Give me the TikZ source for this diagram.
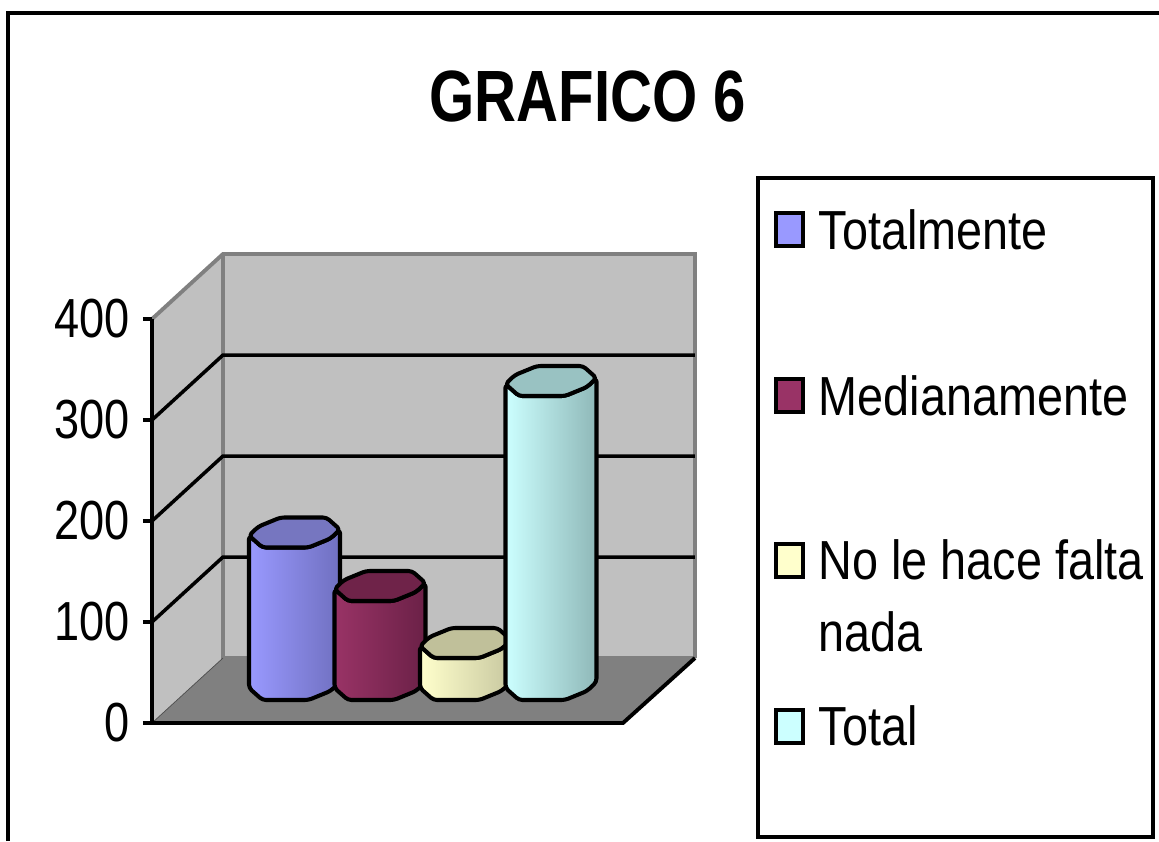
\documentclass[tikz,border=0pt]{standalone}
\usepackage{fontspec}
\setmainfont{Liberation Sans}[FakeStretch=0.82]
\newfontfamily\leyfont{Liberation Sans}[FakeStretch=0.85]
\newfontfamily\titfont{Liberation Sans}[FakeStretch=0.8]
\definecolor{gris}{HTML}{C0C0C0}
\definecolor{grisosc}{HTML}{808080}
\definecolor{azul}{HTML}{9999FF}
\definecolor{azulosc}{HTML}{7070C0}
\definecolor{azultapa}{HTML}{7676C0}
\definecolor{granate}{HTML}{993366}
\definecolor{granateosc}{HTML}{6B2147}
\definecolor{granatetapa}{HTML}{6F2349}
\definecolor{crema}{HTML}{FFFFCC}
\definecolor{cremaosc}{HTML}{C8C8A0}
\definecolor{crematapa}{HTML}{C0C09A}
\definecolor{celeste}{HTML}{CCFFFF}
\definecolor{celesteosc}{HTML}{8FB8B8}
\definecolor{celestetapa}{HTML}{99C2C2}
\begin{document}
\begin{tikzpicture}[x=0.01cm,y=-0.01cm,
  pared/.style={fill=gris},
  borde/.style={draw=grisosc,line width=1.1pt},
  rejilla/.style={line width=1pt},
  barra/.style={line width=1.15pt,line join=round,rounded corners=1pt},
  etiq/.style={anchor=east,inner sep=0pt,font=\fontsize{15.65}{18}\selectfont},
  textoley/.style={anchor=base west,inner sep=0pt,align=left,font=\leyfont\fontsize{15.65}{20.2}\selectfont},
  cuadro/.style={draw,line width=0.9pt}]
\useasboundingbox (0,0) rectangle (1159,841);
%\draw[step=100,very thin,color=gray] (0,0) grid (1159,841);
\draw[line width=1pt] (8,841) -- (8,13) -- (1159,13);
\node[font=\titfont\bfseries\fontsize{20.66}{24}\selectfont,inner sep=0pt] (titulo) at (588,96) {GRAFICO 6};
% paredes y piso
\fill[pared] (152,319) -- (223,254) -- (223,658) -- (152,723) -- cycle;
\fill[pared] (223,254) rectangle (695,658);
\fill[grisosc] (152,723) -- (223,658) -- (695,658) -- (623,723) -- cycle;
\draw[borde] (152,319) -- (223,254) -- (695,254) -- (695,658);
\draw[borde] (223,254) -- (223,658) -- (695,658);
\draw[very thin,black!70] (152,723) -- (223,658);
\draw[line width=1.1pt] (152,723) -- (623,723) -- (695,658);
% lineas de division
\draw[rejilla] (152,622) -- (223,557) -- (695,557);
\draw[rejilla] (152,521) -- (223,456) -- (695,456);
\draw[rejilla] (152,420) -- (223,355) -- (695,355);
% eje
\draw[line width=1.1pt] (152,319) -- (152,723);
\draw[line width=1.1pt] (143,723) -- (152,723);
\draw[line width=1.1pt] (143,622) -- (152,622);
\draw[line width=1.1pt] (143,521) -- (152,521);
\draw[line width=1.1pt] (143,420) -- (152,420);
\draw[line width=1.1pt] (143,319) -- (152,319);
\node[etiq] (e0) at (130,723) {0};
\node[etiq] (e100) at (130,622) {100};
\node[etiq] (e200) at (130,521) {200};
\node[etiq] (e300) at (130,420) {300};
\node[etiq] (e400) at (130,319) {400};
% barras
\draw[barra,left color=azul,right color=azulosc] (249,535.5) -- (249,688) -- ++(13.5,12) -- ++(46,0) -- ++(22,-9) -- ++(9.5,-9) -- (340,529.5) -- ++(-9.5,9) -- ++(-22,9) -- ++(-46,0) -- cycle;
\draw[barra,fill=azultapa] (249,535.5) -- ++(13.5,12) -- ++(46,0) -- ++(22,-9) -- ++(9.5,-9) -- ++(-13.5,-12) -- ++(-46,0) -- ++(-22,9) -- cycle;
\draw[barra,left color=granate,right color=granateosc] (334.5,589) -- (334.5,688) -- ++(13.5,12) -- ++(46,0) -- ++(22,-9) -- ++(9.5,-9) -- (425.5,583) -- ++(-9.5,9) -- ++(-22,9) -- ++(-46,0) -- cycle;
\draw[barra,fill=granatetapa] (334.5,589) -- ++(13.5,12) -- ++(46,0) -- ++(22,-9) -- ++(9.5,-9) -- ++(-13.5,-12) -- ++(-46,0) -- ++(-22,9) -- cycle;
\draw[barra,left color=crema,right color=cremaosc] (420,646) -- (420,688) -- ++(13.5,12) -- ++(46,0) -- ++(22,-9) -- ++(9.5,-9) -- (511,640) -- ++(-9.5,9) -- ++(-22,9) -- ++(-46,0) -- cycle;
\draw[barra,fill=crematapa] (420,646) -- ++(13.5,12) -- ++(46,0) -- ++(22,-9) -- ++(9.5,-9) -- ++(-13.5,-12) -- ++(-46,0) -- ++(-22,9) -- cycle;
\draw[barra,left color=celeste,right color=celesteosc] (505.5,384) -- (505.5,688) -- ++(13.5,12) -- ++(46,0) -- ++(22,-9) -- ++(9.5,-9) -- (596.5,378) -- ++(-9.5,9) -- ++(-22,9) -- ++(-46,0) -- cycle;
\draw[barra,fill=celestetapa] (505.5,384) -- ++(13.5,12) -- ++(46,0) -- ++(22,-9) -- ++(9.5,-9) -- ++(-13.5,-12) -- ++(-46,0) -- ++(-22,9) -- cycle;
% leyenda
\draw[line width=0.9pt] (758,178) rectangle (1153,837);
\draw[cuadro,fill=azul] (776,213) rectangle (803,246);
\node[textoley] (ley1) at (818,249) {Totalmente};
\draw[cuadro,fill=granate] (776,379) rectangle (803,412);
\node[textoley] (ley2) at (818,415.5) {Medianamente};
\draw[cuadro,fill=crema] (776,544) rectangle (803,577);
\node[textoley] (ley3) at (818,651) {No le hace falta\\nada};
\draw[cuadro,fill=celeste] (776,710) rectangle (803,743);
\node[textoley] (ley4) at (818,745) {Total};
\end{tikzpicture}
\end{document}
